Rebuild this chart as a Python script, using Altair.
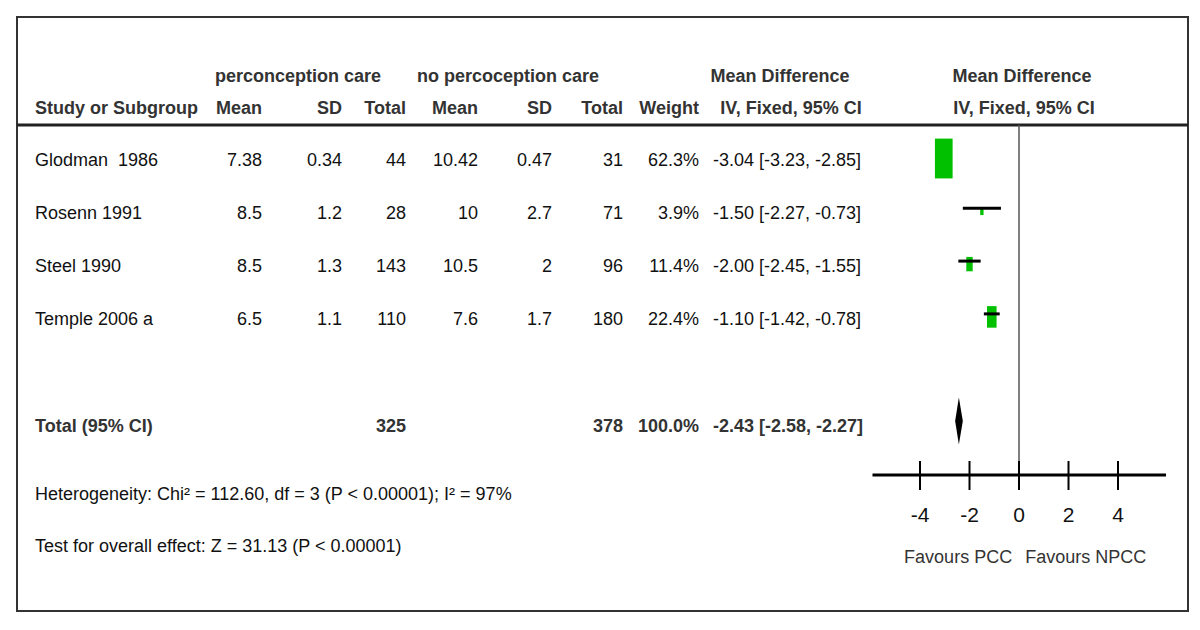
import altair as alt
import pandas as pd

# ---------------- data ----------------
studies = ["Glodman\u00a0 1986", "Rosenn 1991", "Steel 1990", "Temple 2006 a"]
e_mean = ["7.38", "8.5", "8.5", "6.5"]
e_sd = ["0.34", "1.2", "1.3", "1.1"]
e_total = [44, 28, 143, 110]
c_mean = ["10.42", "10", "10.5", "7.6"]
c_sd = ["0.47", "2.7", "2", "1.7"]
c_total = [31, 71, 96, 180]
weights = [62.3, 3.9, 11.4, 22.4]
md = [-3.04, -1.50, -2.00, -1.10]
ci_lo = [-3.23, -2.27, -2.45, -1.42]
ci_hi = [-2.85, -0.73, -1.55, -0.78]

total_e = 325
total_c = 378
total_weight = 100.0
total_md = -2.43
total_lo = -2.58
total_hi = -2.27

header_groups = ["perconception care", "no percoception care", "Mean Difference", "Mean Difference"]
header_cols = ["Study or Subgroup", "Mean", "SD", "Total", "Mean", "SD", "Total", "Weight",
               "IV, Fixed, 95% CI", "IV, Fixed, 95% CI"]
total_label = "Total (95% CI)"
het_text = "Heterogeneity: Chi² = 112.60, df = 3 (P < 0.00001); I² = 97%"
effect_text = "Test for overall effect: Z = 31.13 (P < 0.00001)"
axis_ticks = [-4, -2, 0, 2, 4]
favours = ["Favours PCC", "Favours NPCC"]
favours_at = [-2.46, 2.7]

# ---------------- layout (page pixels / row units) ----------------
FONT = "Liberation Sans"
FS = 18
W, H = 1171, 594
COLX = dict(name=35, e_mean=262, e_sd=342, e_total=406, c_mean=478, c_sd=552,
            c_total=623, weight=699, ci=713)
GROUPX = [298, 508, 780, 1022]
HEAD2_X = [35, 262, 342, 406, 478, 552, 623, 699, 791, 1024]
HEAD2_ALIGN = ["left"] + ["right"] * 7 + ["center", "center"]
R_H1, R_H2, R_TOT, R_HET, R_TEST = -1.525, -0.919, 5.03, 6.373, 7.358
R_HLINE, R_AXIS, R_TICK0, R_TICK1, R_TICKLAB, R_FAV = -0.578, 6.051, 5.786, 6.335, 6.828, 7.623

text_x = alt.Scale(domain=[17, 1188], range=[0, W])
forest_x = alt.Scale(domain=[-40.485, 6.828], range=[0, W])
yscale = alt.Scale(domain=[-2.623, 8.627], range=[0, H])

def tx(field):
    return alt.X(field, type="quantitative", scale=text_x, axis=None)

def fx(field):
    return alt.X(field, type="quantitative", scale=forest_x, axis=None)

def yy(field):
    return alt.Y(field, type="quantitative", scale=yscale, axis=None)

# ---------------- text tables ----------------
rows_left, rows_right, notes = [], [], []
for i in range(len(studies)):
    rows_left.append(dict(x=COLX["name"], row=i, label=studies[i]))
    rows_left.append(dict(x=COLX["ci"], row=i,
                          label=f"{md[i]:.2f} [{ci_lo[i]:.2f}, {ci_hi[i]:.2f}]"))
    for key, val in [("e_mean", e_mean[i]), ("e_sd", e_sd[i]), ("e_total", e_total[i]),
                     ("c_mean", c_mean[i]), ("c_sd", c_sd[i]), ("c_total", c_total[i]),
                     ("weight", f"{weights[i]:.1f}%")]:
        rows_right.append(dict(x=COLX[key], row=i, label=str(val)))
notes.append(dict(x=COLX["name"], row=R_HET, label=het_text))
notes.append(dict(x=COLX["name"], row=R_TEST, label=effect_text))

total_left = [dict(x=COLX["name"], row=R_TOT, label=total_label),
              dict(x=COLX["ci"], row=R_TOT, label=f"{total_md:.2f} [{total_lo:.2f}, {total_hi:.2f}]")]
total_right = [dict(x=COLX["e_total"], row=R_TOT, label=str(total_e)),
               dict(x=COLX["c_total"], row=R_TOT, label=str(total_c)),
               dict(x=COLX["weight"], row=R_TOT, label=f"{total_weight:.1f}%")]
head_left, head_right = [], []
head_center = [dict(x=GROUPX[k], row=R_H1, label=header_groups[k]) for k in range(4)]
for k, lab in enumerate(header_cols):
    d = dict(x=HEAD2_X[k], row=R_H2, label=lab)
    if HEAD2_ALIGN[k] == "left":
        head_left.append(d)
    elif HEAD2_ALIGN[k] == "right":
        head_right.append(d)
    else:
        head_center.append(d)

def text_layer(recs, align, bold, color, dy=4):
    return alt.Chart(pd.DataFrame(recs)).mark_text(
        align=align, baseline="middle", font=FONT, fontSize=FS,
        fontWeight="bold" if bold else "normal", color=color, dy=dy
    ).encode(x=tx("x"), y=yy("row"), text="label:N")

hline = alt.Chart(pd.DataFrame([dict(x=17, x2=1188, row=R_HLINE)])).mark_rule(
    color="#222", strokeWidth=3).encode(x=tx("x"), x2="x2:Q", y=yy("row"))

text_part = alt.layer(
    hline,
    text_layer(rows_left, "left", False, "#111", dy=6),
    text_layer(rows_right, "right", False, "#111", dy=6),
    text_layer(notes, "left", False, "#111", dy=3),
    text_layer(total_left, "left", True, "#333", dy=6),
    text_layer(total_right, "right", True, "#333", dy=6),
    text_layer(head_left, "left", True, "#333", dy=2),
    text_layer(head_right, "right", True, "#333", dy=2),
    text_layer(head_center, "center", True, "#333", dy=2),
)

# ---------------- forest plot ----------------
sdf = pd.DataFrame(dict(study=studies, md=md, lo=ci_lo, hi=ci_hi, w=weights, row=list(range(len(studies)))))

boxes = alt.Chart(sdf).transform_calculate(
    hw="8.85 * pow(datum.w / 62.3, 0.6)"
).transform_calculate(
    x1="datum.md - datum.hw / 24.75", x2="datum.md + datum.hw / 24.75",
    y1="datum.row + 0.057 - 2.25 * datum.hw / 52.8", y2="datum.row + 0.057 + 2.25 * datum.hw / 52.8"
).mark_rect(color="#00c000").encode(x=fx("x1"), x2="x2:Q", y=yy("y1"), y2="y2:Q")

ci_lines = alt.Chart(sdf).transform_calculate(
    boxw="2 * 8.85 * pow(datum.w / 62.3, 0.6) / 24.75"
).transform_filter("datum.hi - datum.lo > datum.boxw").mark_rule(
    color="black", strokeWidth=3).encode(x=fx("lo"), x2="hi:Q", y=yy("row"))

dia = pd.DataFrame(dict(v=[total_lo, total_md, total_hi], k=[0, 1, 0]))
diamond = alt.Chart(dia).transform_calculate(
    ya=f"{R_TOT} - 0.445 * datum.k", yb=f"{R_TOT} + 0.445 * datum.k"
).mark_area(color="black", opacity=1).encode(x=fx("v"), y=yy("ya"), y2="yb:Q")

zero = alt.Chart(pd.DataFrame([dict(v=0, r0=R_HLINE, r1=R_AXIS)])).mark_rule(
    color="#555", strokeWidth=1.5).encode(x=fx("v"), y=yy("r0"), y2="r1:Q")

axis_line = alt.Chart(pd.DataFrame([dict(a=-5.92, b=5.94, row=R_AXIS)])).mark_rule(
    color="black", strokeWidth=3).encode(x=fx("a"), x2="b:Q", y=yy("row"))

tdf = pd.DataFrame(dict(v=axis_ticks, r0=R_TICK0, r1=R_TICK1, rl=R_TICKLAB, lab=[str(t) for t in axis_ticks]))
ticks = alt.Chart(tdf).mark_rule(color="black", strokeWidth=2).encode(x=fx("v"), y=yy("r0"), y2="r1:Q")
tick_labels = alt.Chart(tdf).mark_text(font=FONT, fontSize=FS + 3, color="#111", baseline="middle").encode(
    x=fx("v"), y=yy("rl"), text="lab:N")

fav = pd.DataFrame(dict(v=favours_at, row=R_FAV, lab=favours))
fav_labels = alt.Chart(fav).mark_text(font=FONT, fontSize=FS, color="#333", baseline="middle").encode(
    x=fx("v"), y=yy("row"), text="lab:N")

forest_part = alt.layer(zero, boxes, ci_lines, diamond, axis_line, ticks, tick_labels, fav_labels)

chart = alt.layer(text_part, forest_part).resolve_scale(x="independent").properties(
    width=W, height=H, autosize=alt.AutoSizeParams(type="none"),
    padding={"left": 9, "top": 9, "right": 4, "bottom": 4}, background="white",
).configure_view(stroke="#333", strokeWidth=2)

chart.save("out.html", embed_options={"renderer": "svg", "actions": False})
